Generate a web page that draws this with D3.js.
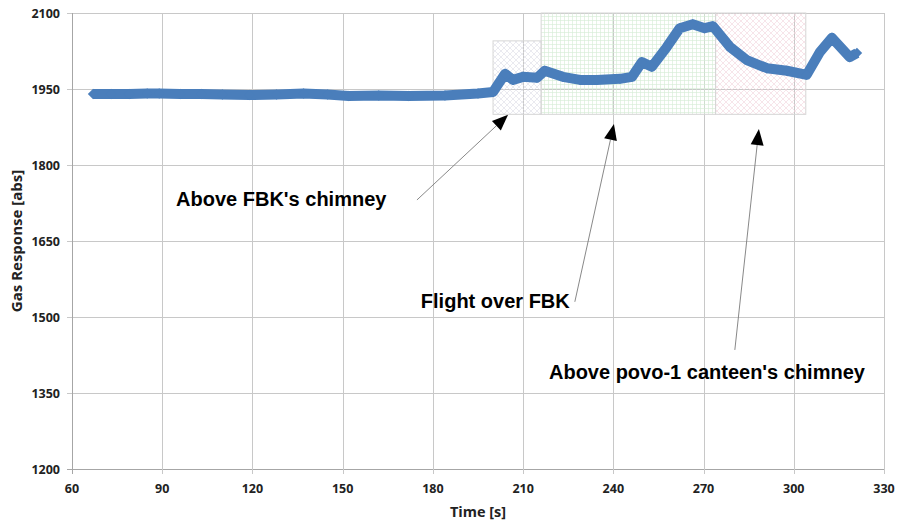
<!DOCTYPE html>
<html>
<head>
<meta charset="utf-8">
<script src="https://cdn.jsdelivr.net/npm/d3@7"></script>
<style>
  body { margin: 0; background: #fff; }
  svg { display: block; }
</style>
</head>
<body>
<script>
// Data
const times = [67, 73, 79, 85, 89, 96, 103, 110, 119, 128, 137, 145, 152, 162, 172, 184, 195, 200, 204, 206.6, 210, 214.6, 217.2, 223.2, 228.9, 234.5, 242.2, 246.2, 249.5, 252.8, 257.8, 262.1, 266.4, 270.4, 273.1, 278.8, 284.4, 291.1, 297.7, 304.3, 308.7, 312.7, 318.6, 321];
const values = [1940, 1940, 1940, 1941, 1941, 1940, 1940, 1939, 1938, 1939, 1941, 1939, 1936, 1937, 1936, 1937, 1941, 1944, 1980, 1968, 1974, 1972, 1986, 1974, 1968, 1968, 1970, 1974, 2003, 1994, 2033, 2070, 2078, 2070, 2074, 2033, 2007, 1991, 1986, 1978, 2023, 2051, 2013, 2021];

const xTicks = [60, 90, 120, 150, 180, 210, 240, 270, 300, 330];
const yTicks = [1200, 1350, 1500, 1650, 1800, 1950, 2100];

// shaded zones (time start, time end, response low, response high)
const zoneStart = [200, 216, 274];
const zoneEnd = [216, 274, 304];
const zoneLow = [1900, 1900, 1900];
const zoneHigh = [2045, 2100, 2100];
const zonePattern = ["hatchGray", "gridGreen", "hatchPink"];

// annotations: label, text anchor point, arrow tail, arrow tip (data units)
const noteLabels = ["Above FBK's chimney", "Flight over FBK", "Above povo-1 canteen's chimney"];
const noteTextT = [94.6, 176, 218.6];
const noteTextV = [1719, 1518, 1378];
const arrowFromT = [174.7, 227.2, 280.4];
const arrowFromV = [1731, 1530, 1435];
const arrowToT = [205, 240.2, 288.4];
const arrowToV = [1899, 1881, 1871];

const width = 897, height = 524;
const margin = {top: 13, right: 13, bottom: 55, left: 72};

const svg = d3.select("body").append("svg")
    .attr("width", width)
    .attr("height", height);

const x = d3.scaleLinear().domain([60, 330]).range([margin.left, width - margin.right]);
const y = d3.scaleLinear().domain([1200, 2100]).range([height - margin.bottom, margin.top]);

// Patterns for the zones
const defs = svg.append("defs");

const pGray = defs.append("pattern").attr("id", "hatchGray")
    .attr("width", 6).attr("height", 6).attr("patternUnits", "userSpaceOnUse");
pGray.append("path").attr("d", "M0,0 L6,6 M6,0 L0,6")
    .attr("stroke", "#dcdce6").attr("stroke-width", 0.6);

const pGreen = defs.append("pattern").attr("id", "gridGreen")
    .attr("width", 4).attr("height", 4).attr("patternUnits", "userSpaceOnUse");
pGreen.append("path").attr("d", "M0,0.5 H4 M0.5,0 V4")
    .attr("stroke", "#d3ebd3").attr("stroke-width", 0.6);

const pPink = defs.append("pattern").attr("id", "hatchPink")
    .attr("width", 6).attr("height", 6).attr("patternUnits", "userSpaceOnUse");
pPink.append("path").attr("d", "M0,0 L6,6 M6,0 L0,6")
    .attr("stroke", "#f2d4dc").attr("stroke-width", 0.6);

// Gridlines
svg.append("g").selectAll("line.h")
    .data(yTicks)
    .join("line")
    .attr("x1", margin.left - 5).attr("x2", x(330))
    .attr("y1", d => y(d) + 0.5).attr("y2", d => y(d) + 0.5)
    .attr("stroke", d => d === 1200 ? "#a6a6a6" : "#c8c8c8")
    .attr("stroke-width", 1);

svg.append("g").selectAll("line.v")
    .data(xTicks)
    .join("line")
    .attr("x1", d => Math.round(x(d)) + 0.5).attr("x2", d => Math.round(x(d)) + 0.5)
    .attr("y1", y(2100)).attr("y2", y(1200) + 5)
    .attr("stroke", d => d === 60 ? "#a6a6a6" : "#c8c8c8")
    .attr("stroke-width", 1);

// Zones
svg.append("g").selectAll("rect")
    .data(zoneStart.map((d, i) => i))
    .join("rect")
    .attr("x", i => x(zoneStart[i]))
    .attr("y", i => y(zoneHigh[i]))
    .attr("width", i => x(zoneEnd[i]) - x(zoneStart[i]))
    .attr("height", i => y(zoneLow[i]) - y(zoneHigh[i]))
    .attr("fill", i => "url(#" + zonePattern[i] + ")")
    .attr("stroke", "#d6d6d6")
    .attr("stroke-width", 1);

// Series
const points = times.map((t, i) => [t, values[i]]);
const blue = "#4a7ebb";

svg.append("path")
    .datum(points)
    .attr("fill", "none")
    .attr("stroke", blue)
    .attr("stroke-width", 10)
    .attr("stroke-linejoin", "round")
    .attr("d", d3.line().x(d => x(d[0])).y(d => y(d[1])));

svg.append("g").selectAll("path")
    .data(points)
    .join("path")
    .attr("transform", d => `translate(${x(d[0])},${y(d[1])})`)
    .attr("d", d3.symbol(d3.symbolDiamond2, 70))
    .attr("fill", blue);

// Tick labels
svg.append("g").selectAll("text")
    .data(yTicks)
    .join("text")
    .attr("x", margin.left - 12)
    .attr("y", d => y(d) + 4.5)
    .attr("text-anchor", "end")
    .attr("font-family", "'Open Sans', sans-serif")
    .attr("font-weight", "bold")
    .attr("font-size", 12.5)
    .attr("fill", "#222")
    .text(d => d);

svg.append("g").selectAll("text")
    .data(xTicks)
    .join("text")
    .attr("x", d => x(d))
    .attr("y", y(1200) + 24)
    .attr("text-anchor", "middle")
    .attr("font-family", "'Open Sans', sans-serif")
    .attr("font-weight", "bold")
    .attr("font-size", 12.5)
    .attr("fill", "#222")
    .text(d => d);

// Axis titles
svg.append("text")
    .attr("x", (x(60) + x(330)) / 2)
    .attr("y", 517)
    .attr("text-anchor", "middle")
    .attr("font-family", "'Open Sans', sans-serif")
    .attr("font-weight", "bold")
    .attr("font-size", 14.5)
    .attr("fill", "#222")
    .text("Time [s]");

svg.append("text")
    .attr("transform", `translate(22,${(y(1200) + y(2100)) / 2}) rotate(-90)`)
    .attr("text-anchor", "middle")
    .attr("font-family", "'Open Sans', sans-serif")
    .attr("font-weight", "bold")
    .attr("font-size", 15)
    .attr("fill", "#222")
    .text("Gas Response [abs]");

// Annotation arrows
noteLabels.forEach((label, i) => {
    const x0 = x(arrowFromT[i]), y0 = y(arrowFromV[i]);
    const x1 = x(arrowToT[i]), y1 = y(arrowToV[i]);
    const ang = Math.atan2(y1 - y0, x1 - x0);
    const len = 16, half = 6.5;
    const bx = x1 - len * Math.cos(ang), by = y1 - len * Math.sin(ang);

    svg.append("line")
        .attr("x1", x0).attr("y1", y0)
        .attr("x2", bx).attr("y2", by)
        .attr("stroke", "#7a7a7a")
        .attr("stroke-width", 0.9);

    const head = [
        [x1, y1],
        [bx + half * Math.sin(ang), by - half * Math.cos(ang)],
        [bx - half * Math.sin(ang), by + half * Math.cos(ang)]
    ];
    svg.append("path")
        .attr("d", "M" + head.map(p => p.join(",")).join("L") + "Z")
        .attr("fill", "#000");

    svg.append("text")
        .attr("x", x(noteTextT[i]))
        .attr("y", y(noteTextV[i]))
        .attr("font-family", "'Liberation Sans', Arial, sans-serif")
        .attr("font-weight", "bold")
        .attr("font-size", 20)
        .attr("fill", "#000")
        .text(label);
});
</script>
</body>
</html>
